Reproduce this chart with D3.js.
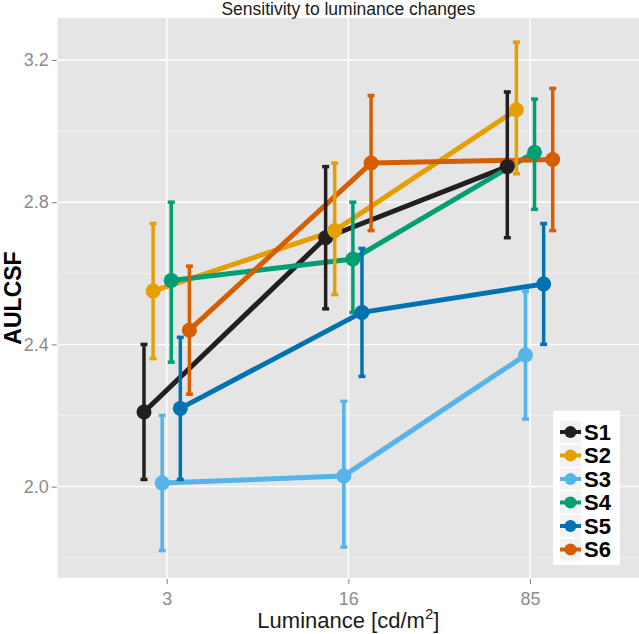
<!DOCTYPE html>
<html>
<head>
<meta charset="utf-8">
<script src="https://cdn.jsdelivr.net/npm/d3@7"></script>
<style>
  html, body { margin: 0; padding: 0; background: #fff; }
  svg { display: block; font-family: "Liberation Sans", Arial, Helvetica, sans-serif; }
</style>
</head>
<body>
<svg id="chart" width="639" height="634"></svg>
<script>
// ---- data ----
const luminance = ["3", "16", "85"];
const subjects = ["S1", "S2", "S3", "S4", "S5", "S6"];
const colors = ["#231f20", "#e69f00", "#56b4e9", "#009e73", "#0072b2", "#d55e00"];
const meanS1 = [2.21, 2.70, 2.90];
const meanS2 = [2.55, 2.72, 3.06];
const meanS3 = [2.01, 2.03, 2.37];
const meanS4 = [2.58, 2.64, 2.94];
const meanS5 = [2.22, 2.49, 2.57];
const meanS6 = [2.44, 2.91, 2.92];
const lowS1 = [2.02, 2.50, 2.70];
const lowS2 = [2.36, 2.54, 2.88];
const lowS3 = [1.82, 1.83, 2.19];
const lowS4 = [2.35, 2.49, 2.78];
const lowS5 = [2.02, 2.31, 2.40];
const lowS6 = [2.26, 2.72, 2.72];
const highS1 = [2.40, 2.90, 3.11];
const highS2 = [2.74, 2.91, 3.25];
const highS3 = [2.20, 2.24, 2.55];
const highS4 = [2.80, 2.80, 3.09];
const highS5 = [2.42, 2.67, 2.74];
const highS6 = [2.62, 3.10, 3.12];
const yTicks = [2.0, 2.4, 2.8, 3.2];
const yMinor = [1.8, 2.2, 2.6, 3.0];
const title = "Sensitivity to luminance changes";
const yTitle = "AULCSF";

const means = [meanS1, meanS2, meanS3, meanS4, meanS5, meanS6];
const lows = [lowS1, lowS2, lowS3, lowS4, lowS5, lowS6];
const highs = [highS1, highS2, highS3, highS4, highS5, highS6];
const series = subjects.map((s, i) => ({
  name: s, color: colors[i],
  values: luminance.map((l, j) => ({ lum: l, mean: means[i][j], low: lows[i][j], high: highs[i][j] }))
}));

// ---- layout ----
const panel = { left: 57.7, right: 639, top: 18, bottom: 578 };
const svg = d3.select("#chart");

const x = d3.scalePoint().domain(luminance).range([panel.left, panel.right]).padding(0.6);
const step = x.step();
const dodge = d3.scaleBand().domain(subjects).range([-0.15 * step, 0.15 * step]);
const xd = (lum, s) => x(lum) + dodge(s) + dodge.bandwidth() / 2;
const y = d3.scaleLinear().domain([1.743, 3.318]).range([panel.bottom, panel.top]);

// panel background
svg.append("rect").attr("x", panel.left).attr("y", panel.top)
  .attr("width", panel.right - panel.left).attr("height", panel.bottom - panel.top)
  .attr("fill", "#e5e5e5");

// grid
const g = svg.append("g");
g.selectAll(".minor").data(yMinor).enter().append("line")
  .attr("x1", panel.left).attr("x2", panel.right)
  .attr("y1", d => y(d)).attr("y2", d => y(d))
  .attr("stroke", "#f2f2f2").attr("stroke-width", 0.8);
g.selectAll(".major").data(yTicks).enter().append("line")
  .attr("x1", panel.left).attr("x2", panel.right)
  .attr("y1", d => y(d)).attr("y2", d => y(d))
  .attr("stroke", "#ffffff").attr("stroke-width", 1.5);
g.selectAll(".vmajor").data(luminance).enter().append("line")
  .attr("x1", d => x(d)).attr("x2", d => x(d))
  .attr("y1", panel.top).attr("y2", panel.bottom)
  .attr("stroke", "#ffffff").attr("stroke-width", 1.5);

// axes
const yAxis = d3.axisLeft(y).tickValues(yTicks).tickFormat(d3.format(".1f")).tickSize(5).tickPadding(3);
const ya = svg.append("g").attr("transform", `translate(${panel.left - 1},0)`).call(yAxis);
const xAxis = d3.axisBottom(x).tickSize(5).tickPadding(8);
const xa = svg.append("g").attr("transform", `translate(0,${panel.bottom + 1})`).call(xAxis);
[ya, xa].forEach(a => {
  a.select(".domain").remove();
  a.selectAll(".tick line").attr("stroke", "#7f7f7f").attr("stroke-width", 1);
  a.selectAll(".tick text").attr("fill", "#8c8c8c").style("font-size", "18px")
    .style("font-family", "'Liberation Sans', Arial, sans-serif");
});

// lines
const line = d3.line().x(d => d.px).y(d => y(d.mean));
series.forEach(s => s.values.forEach(v => v.px = xd(v.lum, s.name)));
svg.append("g").selectAll("path").data(series).enter().append("path")
  .attr("d", d => line(d.values)).attr("fill", "none")
  .attr("stroke", d => d.color).attr("stroke-width", 5).attr("stroke-linejoin", "round");

// error bars
const eb = svg.append("g");
series.forEach(s => {
  const gg = eb.append("g").attr("stroke", s.color);
  gg.selectAll(".v").data(s.values).enter().append("line")
    .attr("x1", d => d.px).attr("x2", d => d.px)
    .attr("y1", d => y(d.low)).attr("y2", d => y(d.high)).attr("stroke-width", 3.5);
  ["low", "high"].forEach(k => {
    gg.selectAll(".c" + k).data(s.values).enter().append("line")
      .attr("x1", d => d.px - 3.5).attr("x2", d => d.px + 3.5)
      .attr("y1", d => y(d[k])).attr("y2", d => y(d[k])).attr("stroke-width", 3.5);
  });
});

// points
series.forEach(s => {
  svg.append("g").selectAll("circle").data(s.values).enter().append("circle")
    .attr("cx", d => d.px).attr("cy", d => y(d.mean)).attr("r", 7.5).attr("fill", s.color);
});

// title
svg.append("text").attr("x", (panel.left + panel.right) / 2).attr("y", 15)
  .attr("text-anchor", "middle").attr("fill", "#1a1a1a").style("font-size", "17.5px").text(title);

// y title
svg.append("text").attr("transform", `translate(21,${(panel.top + panel.bottom) / 2}) rotate(-90)`)
  .attr("text-anchor", "middle").attr("fill", "#000").style("font-size", "23px").style("font-weight", "bold")
  .text(yTitle);

// x title with superscript
const xt = svg.append("text").attr("x", (panel.left + panel.right) / 2).attr("y", 628)
  .attr("text-anchor", "middle").attr("fill", "#1a1a1a").style("font-size", "22px");
xt.append("tspan").text("Luminance [cd/m");
xt.append("tspan").attr("dy", -9).style("font-size", "15px").text("2");
xt.append("tspan").attr("dy", 9).text("]");

// legend
const lg = svg.append("g");
lg.append("rect").attr("x", 553).attr("y", 410.7).attr("width", 67).attr("height", 154.3).attr("fill", "#fff");
subjects.forEach((s, i) => {
  const cy = 432 + i * 23.5;
  lg.append("rect").attr("x", 560).attr("y", cy - 11).attr("width", 21).attr("height", 22).attr("fill", "#f2f2f2");
  lg.append("line").attr("x1", 560).attr("x2", 581).attr("y1", cy).attr("y2", cy)
    .attr("stroke", colors[i]).attr("stroke-width", 4);
  lg.append("circle").attr("cx", 570.5).attr("cy", cy).attr("r", 6).attr("fill", colors[i]);
  lg.append("text").attr("x", 584).attr("y", cy).attr("dy", "0.36em")
    .style("font-size", "22px").style("font-weight", "bold").attr("fill", "#000").text(s);
});
</script>
</body>
</html>
